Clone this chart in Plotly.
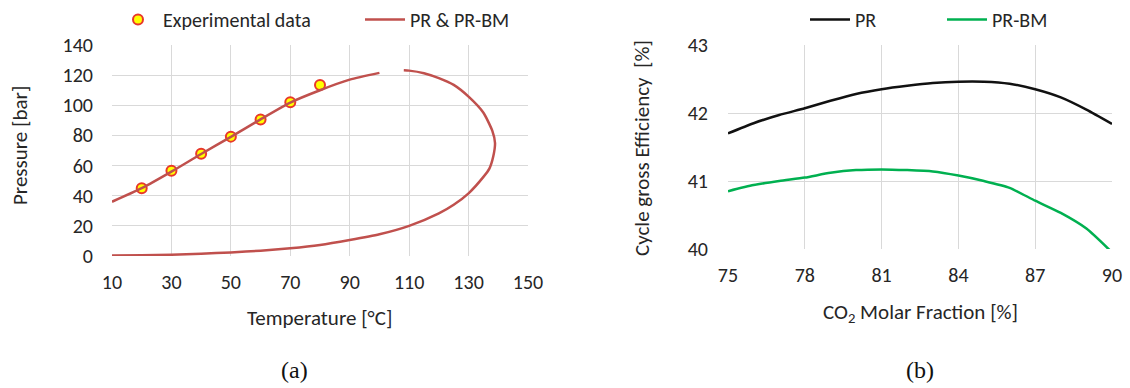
import plotly.graph_objects as go

# ---- Panel (a) data ----
exp_T = [20, 30, 40, 50, 60, 70, 80]
exp_P = [45.0, 56.5, 67.8, 79.2, 90.5, 102.0, 113.5]

bubble_T = [10, 20, 30, 40, 50, 60, 70, 80, 90, 100]
bubble_P = [36.0, 45.0, 56.0, 67.7, 79.0, 90.7, 101.8, 110.0, 117.0, 121.5]

dew_T = [108.2, 110, 115, 120, 125, 130, 135, 138, 138.9, 138.3, 137, 135, 130, 125, 120,
         110, 100, 90, 80, 70, 60, 50, 40, 30, 20, 10]
dew_P = [123.2, 123.0, 121.3, 118.0, 113.5, 105.7, 95.0, 83.0, 75.0, 66.0, 58.0, 52.5, 41.6,
         34.0, 28.3, 20.0, 14.4, 10.6, 7.3, 5.1, 3.5, 2.4, 1.5, 0.9, 0.5, 0.3]

# ---- Panel (b) data ----
co2 = [75, 76, 77, 78, 79, 80, 81, 82, 83, 84, 85, 86, 87, 88, 89, 90]
eff_pr = [41.70, 41.85, 41.97, 42.07, 42.18, 42.28, 42.35, 42.40, 42.44, 42.46, 42.46, 42.43,
          42.35, 42.23, 42.05, 41.84]
eff_prbm = [40.85, 40.94, 41.00, 41.05, 41.12, 41.16, 41.17, 41.16, 41.14, 41.08, 41.00, 40.90,
            40.71, 40.53, 40.30, 39.95]

FONT = "Carlito, Lato, sans-serif"
TXT = "#262626"
GRID = "#d9d9d9"

curve_T = bubble_T + [None] + dew_T
curve_P = bubble_P + [None] + dew_P

fig = go.Figure()
fig.add_trace(go.Scatter(x=exp_T, y=exp_P, mode="markers", name="Experimental data",
                         marker=dict(size=10, color="#ffff00", line=dict(color="#e8382b", width=2)),
                         xaxis="x", yaxis="y", legend="legend"))
fig.add_trace(go.Scatter(x=curve_T, y=curve_P, mode="lines", name="PR & PR-BM",
                         line=dict(color="#c0504d", width=2.5, shape="spline", smoothing=0.6),
                         connectgaps=False, xaxis="x", yaxis="y", legend="legend"))
fig.add_trace(go.Scatter(x=co2, y=eff_pr, mode="lines", name="PR",
                         line=dict(color="#111111", width=2.5, shape="spline", smoothing=0.6),
                         xaxis="x2", yaxis="y2", legend="legend2"))
fig.add_trace(go.Scatter(x=co2, y=eff_prbm, mode="lines", name="PR-BM",
                         line=dict(color="#00b050", width=2.5, shape="spline", smoothing=0.6),
                         xaxis="x2", yaxis="y2", legend="legend2"))

W, H = 1130, 388
def px(x): return x / W
def py(y): return 1 - y / H

TICK = 20
TITLE = 21
axis_common = dict(showgrid=True, gridcolor=GRID, gridwidth=1, zeroline=False,
                   showline=False, ticks="", tickfont=dict(family=FONT, size=TICK, color=TXT),
                   fixedrange=True, automargin=False)

fig.update_layout(
    width=W, height=H,
    margin=dict(l=0, r=0, t=0, b=0, autoexpand=False),
    paper_bgcolor="white", plot_bgcolor="white",
    font=dict(family=FONT, color=TXT),
    showlegend=True,
    xaxis=dict(domain=[px(112), px(528)], range=[10, 150], dtick=20, tick0=10,
               ticklabelstandoff=12, anchor="y", **axis_common),
    yaxis=dict(domain=[py(256), py(45)], range=[0, 140], dtick=20,
               ticklabelstandoff=18, anchor="x", **axis_common),
    xaxis2=dict(domain=[px(728), px(1112)], range=[75, 90], dtick=3, tick0=75,
                ticklabelstandoff=12, anchor="y2", **axis_common),
    yaxis2=dict(domain=[py(249), py(45)], range=[40, 43], dtick=1,
                ticklabelstandoff=19, anchor="x2", **axis_common),
    legend=dict(orientation="h", x=px(113), y=1.0, xanchor="left", yanchor="top",
                font=dict(family=FONT, size=TICK, color=TXT), bgcolor="rgba(0,0,0,0)",
                itemwidth=40, entrywidth=192, entrywidthmode="pixels"),
    legend2=dict(orientation="h", x=px(805), y=1.0, xanchor="left", yanchor="top",
                 font=dict(family=FONT, size=TICK, color=TXT), bgcolor="rgba(0,0,0,0)",
                 itemwidth=40, entrywidth=82, entrywidthmode="pixels"),
    annotations=[
        dict(text="Pressure [bar]", x=px(20), y=py(146), xref="paper", yref="paper",
             xanchor="center", yanchor="middle",
             showarrow=False, textangle=-90, font=dict(family=FONT, size=TITLE, color=TXT)),
        dict(text="Temperature [°C]", x=px(319), y=py(318), xref="paper", yref="paper",
             xanchor="center", yanchor="middle",
             showarrow=False, font=dict(family=FONT, size=TITLE, color=TXT)),
        dict(text="Cycle gross Efficiency  [%]", x=px(642), y=py(148), xref="paper", yref="paper",
             xanchor="center", yanchor="middle",
             showarrow=False, textangle=-90, font=dict(family=FONT, size=TITLE, color=TXT)),
        dict(text="CO<sub>2</sub> Molar Fraction [%]", x=px(920), y=py(313), xref="paper", yref="paper",
             xanchor="center", yanchor="middle",
             showarrow=False, font=dict(family=FONT, size=TITLE, color=TXT)),
        dict(text="(a)", x=px(294), y=py(370), xref="paper", yref="paper",
             xanchor="center", yanchor="middle",
             showarrow=False, font=dict(family="Liberation Serif, serif", size=24, color="#111111")),
        dict(text="(b)", x=px(920), y=py(370), xref="paper", yref="paper",
             xanchor="center", yanchor="middle",
             showarrow=False, font=dict(family="Liberation Serif, serif", size=24, color="#111111")),
    ],
)

fig.write_html("out.html")
